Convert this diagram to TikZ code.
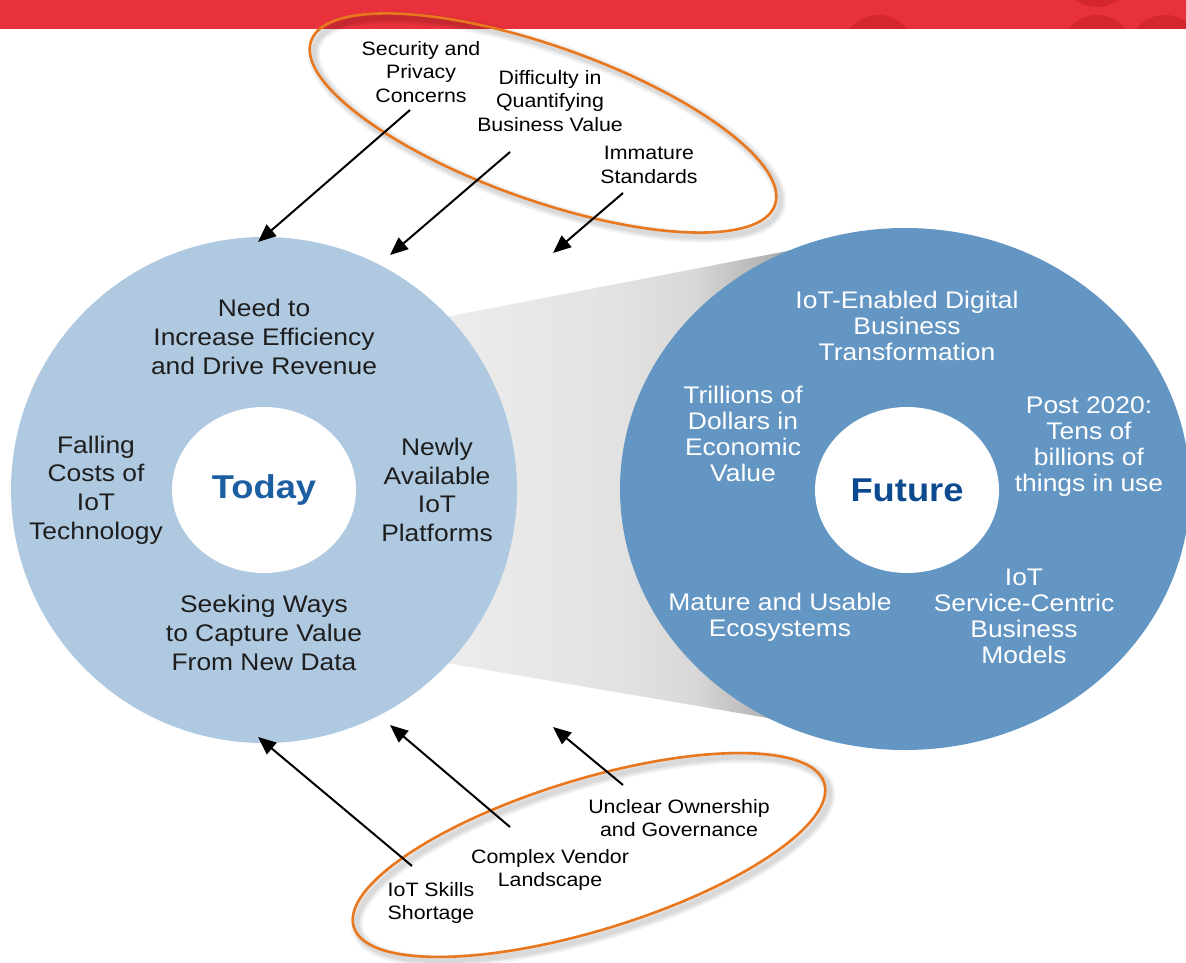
\documentclass[tikz,border=0pt]{standalone}
\usepackage{fontspec}
\setmainfont[FakeStretch=1.1]{Liberation Sans}
\usetikzlibrary{arrows.meta}
\definecolor{bannerred}{HTML}{E8313B}
\definecolor{bannerdark}{HTML}{D3262E}
\definecolor{todayblue}{HTML}{AFC9E1}
\definecolor{futureblue}{HTML}{6496C4}
\definecolor{todaytxt}{HTML}{1C5EA2}
\definecolor{futuretxt}{HTML}{0B4A8E}
\definecolor{ringorange}{HTML}{E8771E}
\definecolor{bodytxt}{HTML}{1E1E1E}
\definecolor{funnellight}{HTML}{EDEDED}
\definecolor{funnelmid}{HTML}{E2E2E2}
\definecolor{funneldark}{HTML}{A0A0A0}
\pgfdeclarehorizontalshading{funnelshade}{100bp}{%
  color(0bp)=(funnellight); color(25bp)=(funnellight); color(50bp)=(funnelmid);
  color(60bp)=(funnelmid!85!funneldark); color(75bp)=(funneldark); color(100bp)=(funneldark)}
\begin{document}
\begin{tikzpicture}[x=0.5pt,y=-0.5pt,
  lbl/.style={align=center, inner sep=0pt, text=black, font=\fontsize{9.7}{11.75}\selectfont},
  ttxt/.style={align=center, inner sep=0pt, text=bodytxt, font=\fontsize{12}{14.3}\selectfont},
  ftxt/.style={align=center, inner sep=0pt, text=white, font=\fontsize{12}{13}\selectfont},
  core/.style={inner sep=0pt, font=\fontsize{16.5}{18}\selectfont\bfseries},
  push/.style={draw=black, line width=1pt, -{Triangle[length=9pt,width=7.5pt]}},
  ring/.style={draw=ringorange, line width=1.3pt},
  ringshadow/.style={draw=black, opacity=0.05}
]
\useasboundingbox (0,0) rectangle (1186,962);
\clip (0,0) rectangle (1186,962);
\fill[white] (0,0) rectangle (1186,962);

% banner
\begin{scope}
  \clip (0,0) rectangle (1186,29);
  \fill[bannerred] (0,0) rectangle (1186,29);
  \fill[bannerdark] (878,51) circle [radius=36];
  \fill[bannerdark] (1097,51) circle [radius=36];
  \fill[bannerdark] (1097,-29) circle [radius=36];
  \fill[bannerdark] (1165,51) circle [radius=36];
\end{scope}

% funnel between the two discs
\shade[shading=funnelshade]
  (440,318) -- (803,248) -- (803,724) -- (440,662) -- cycle;

% discs
\fill[todayblue] (264,490) circle [radius=253];
\fill[white] (264,490) ellipse [x radius=92, y radius=83];
\fill[futureblue] (905,489) ellipse [x radius=285, y radius=261];
\fill[white] (907,490) ellipse [x radius=92, y radius=83];

% rings (with soft shadow)
\foreach \w in {6,4,2.5}{
  \draw[ringshadow, line width=\w pt, shift={(547,127)}, rotate=-19.5] (0,0) ellipse [x radius=246, y radius=77];
  \draw[ringshadow, line width=\w pt, shift={(593,859)}, rotate=17] (0,0) ellipse [x radius=246, y radius=75.5];
}
\draw[ring, shift={(543,123)}, rotate=-19.5] (0,0) ellipse [x radius=246, y radius=77];
\draw[ring, shift={(589,855)}, rotate=17] (0,0) ellipse [x radius=246, y radius=75.5];

% labels of the rings
\node[lbl] (sec) at (421,72) {Security and\\Privacy\\Concerns};
\node[lbl] (diff) at (550,101) {Difficulty in\\Quantifying\\Business Value};
\node[lbl] (imm) at (649,165) {Immature\\Standards};
\node[lbl] (uncl) at (679,818) {Unclear Ownership\\and Governance};
\node[lbl] (cvl) at (550,870) {Complex Vendor\\Landscape};
\node[lbl] (skills) at (431,903) {IoT Skills\\Shortage};

% Today disc texts
\node[core, text=todaytxt] (today) at (264,490) {Today};
\node[ttxt] (tneed) at (264,337) {Need to\\Increase Efficiency\\and Drive Revenue};
\node[ttxt] (tfall) at (96,490) {Falling\\Costs of\\IoT\\Technology};
\node[ttxt] (tnew) at (437,490) {Newly\\Available\\IoT\\Platforms};
\node[ttxt] (tseek) at (264,633) {Seeking Ways\\to Capture Value\\From New Data};

% Future disc texts
\node[core, text=futuretxt] (future) at (907,490) {Future};
\node[ftxt] (fdig) at (907,326) {IoT-Enabled Digital\\Business\\Transformation};
\node[ftxt] (ftril) at (743,434) {Trillions of\\Dollars in\\Economic\\Value};
\node[ftxt] (fpost) at (1089,447) {Post 2020:\\Tens of\\billions of\\things in use};
\node[ftxt] (fmat) at (780,617) {Mature and Usable\\Ecosystems};
\node[ftxt] (fserv) at (1024,616) {IoT\\Service-Centric\\Business\\Models};

% arrows
\coordinate (t1a) at (410,110); \coordinate (t1b) at (258,242);
\coordinate (t2a) at (510,152); \coordinate (t2b) at (390,255);
\coordinate (t3a) at (623,193); \coordinate (t3b) at (553,253);
\coordinate (b1a) at (412,866); \coordinate (b1b) at (258,737);
\coordinate (b2a) at (510,827); \coordinate (b2b) at (390,725);
\coordinate (b3a) at (623,785); \coordinate (b3b) at (553,727);
\draw[push] (t1a) -- (t1b);
\draw[push] (t2a) -- (t2b);
\draw[push] (t3a) -- (t3b);
\draw[push] (b1a) -- (b1b);
\draw[push] (b2a) -- (b2b);
\draw[push] (b3a) -- (b3b);
\end{tikzpicture}
\end{document}
